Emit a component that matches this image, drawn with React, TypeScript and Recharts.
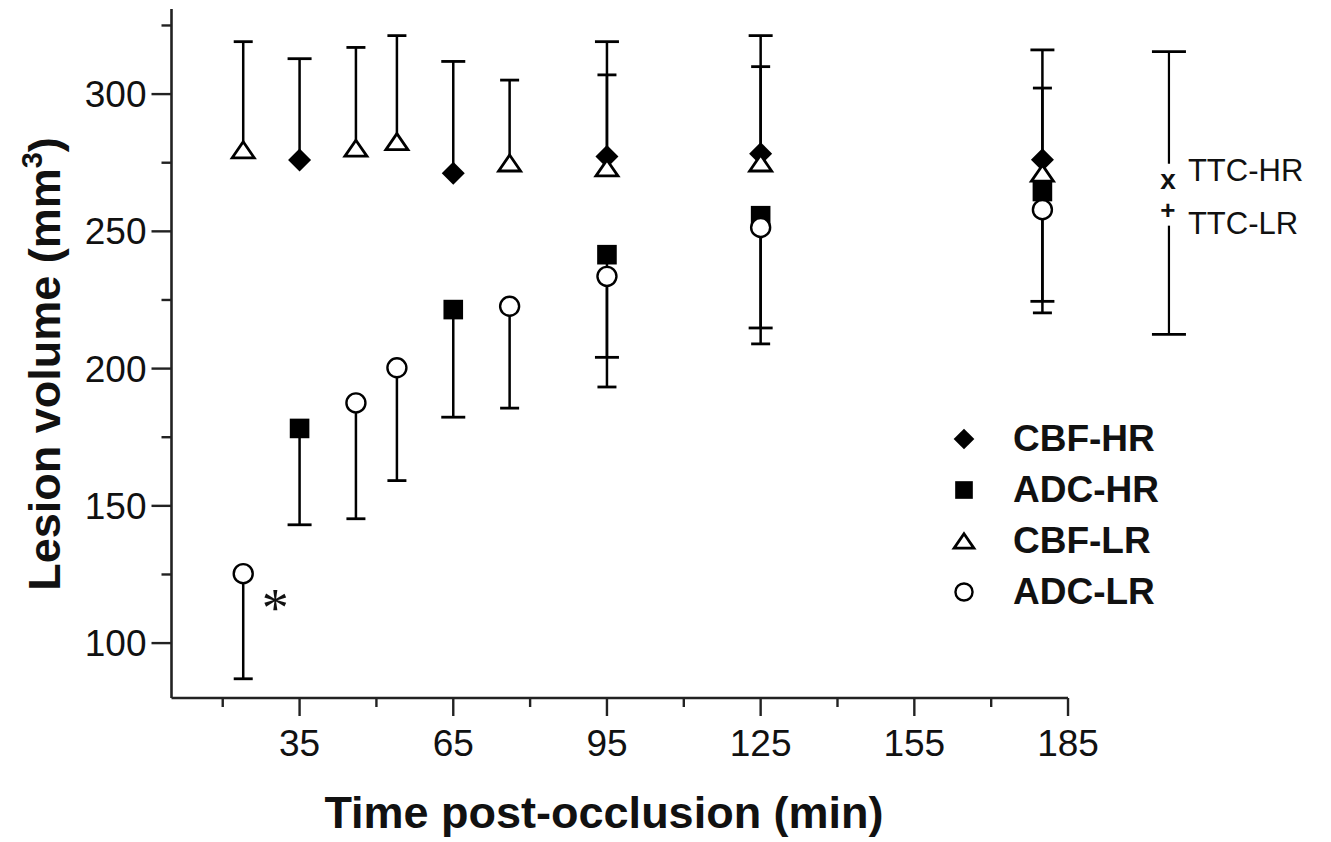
import React from 'react';
import { ComposedChart, Scatter, Line, XAxis, YAxis, ReferenceLine, Legend } from 'recharts';

const FONT = '"Liberation Sans", Arial, Helvetica, sans-serif';
const INK = '#111';

// CBF high-resolution (filled diamond), error bar upward
const cbfHrTime = [35, 65, 95, 125, 180];
const cbfHrVolume = [276.0, 271.2, 277.3, 278.3, 276.1];
const cbfHrUpper = [312.9, 311.9, 319.1, 321.3, 316.1];

// CBF low-resolution (open triangle), error bar upward
const cbfLrTime = [24, 46, 54, 76, 95, 125, 180];
const cbfLrVolume = [279.7, 280.3, 282.7, 274.9, 273.1, 274.9, 271.2];
const cbfLrUpper = [319.1, 317.0, 321.3, 305.1, 307.0, 310.0, 302.2];

// ADC high-resolution (filled square), error bar downward
const adcHrTime = [35, 65, 95, 125, 180];
const adcHrVolume = [178.2, 221.5, 241.5, 255.7, 264.5];
const adcHrLower = [143.1, 182.3, 204.1, 214.8, 224.5];

// ADC low-resolution (open circle), error bar downward
const adcLrTime = [24, 46, 54, 76, 95, 125, 180];
const adcLrVolume = [125.3, 187.5, 200.3, 222.7, 233.6, 251.4, 257.9];
const adcLrLower = [87.0, 145.3, 159.2, 185.6, 193.3, 209.0, 220.3];
const adcLrNotes = ['*', '', '', '', '', '', ''];

// TTC reference values
const ttcTime = 204.7;
const ttcNames = ['TTC-HR', 'TTC-LR'];
const ttcGlyphs = ['x', '+'];
const ttcVolume = [268.8, 257.9];
const ttcRange = [212.5, 315.5];

const xDomain = [10, 236];
const xAxisEnd = 185;
const yDomain = [80, 331];
const xTicks = [20, 35, 50, 65, 80, 95, 110, 125, 140, 155, 170, 185];
const xMajor = [35, 65, 95, 125, 155, 185];
const yTicks = [100, 125, 150, 175, 200, 225, 250, 275, 300, 325];
const yMajor = [100, 150, 200, 250, 300];

const toPoints = (xs: number[], ys: number[]) => xs.map((x, i) => ({ x, y: ys[i] }));
const toBars = (xs: number[], ys: number[], ends: number[]) =>
  xs.flatMap((x, i) => [{ x, y: ys[i] }, { x, y: ends[i], cap: true }, { x, y: null }]);

const capDot = (half: number) => (props: any) => {
  const { cx, cy, payload, index } = props;
  if (!payload || !payload.cap || cx == null || cy == null) return <g key={`c${index}`} />;
  return (
    <line key={`c${index}`} x1={cx - half} x2={cx + half} y1={cy} y2={cy} stroke="#000" strokeWidth={2.8} />
  );
};

function DiamondShape({ cx, cy, s = 1 }: any) {
  const r = 11.5 * s;
  return <polygon points={`${cx},${cy - r} ${cx + r},${cy} ${cx},${cy + r} ${cx - r},${cy}`} fill="#000" />;
}

function SquareShape({ cx, cy, s = 1 }: any) {
  const h = 9.8 * s;
  return <rect x={cx - h} y={cy - h} width={2 * h} height={2 * h} fill="#000" />;
}

function TriangleShape({ cx, cy, s = 1 }: any) {
  const w = 11 * s;
  const h = 8 * s;
  return (
    <polygon
      points={`${cx},${cy - h} ${cx + w},${cy + h} ${cx - w},${cy + h}`}
      fill="#fff"
      stroke="#000"
      strokeWidth={2.8}
    />
  );
}

function CircleShape({ cx, cy, s = 1, payload }: any) {
  return (
    <g>
      <circle cx={cx} cy={cy} r={9.5 * s} fill="#fff" stroke="#000" strokeWidth={2.4} />
      {payload && payload.note ? (
        <text x={cx + 32} y={cy + 52} textAnchor="middle" fontSize={54} fontFamily='"Liberation Serif", serif' fill={INK}>
          {payload.note}
        </text>
      ) : null}
    </g>
  );
}

function TtcShape({ cx, cy, payload }: any) {
  const i = ttcNames.indexOf(payload.name);
  const labelDy = i === 0 ? -10 : 13;
  return (
    <g>
      <rect x={cx - 8} y={cy - 16} width={16} height={32} fill="#fff" />
      <text x={cx - 1} y={cy + 9} textAnchor="middle" fontSize={i === 0 ? 28 : 26} fontWeight={700} fontFamily={FONT} fill={INK}>
        {payload.glyph}
      </text>
      <text x={cx + 19} y={cy + labelDy + 11} fontSize={31} fontFamily={FONT} fill={INK}>
        {payload.name}
      </text>
    </g>
  );
}

const legendItems = [
  { name: 'CBF-HR', Shape: DiamondShape },
  { name: 'ADC-HR', Shape: SquareShape },
  { name: 'CBF-LR', Shape: TriangleShape },
  { name: 'ADC-LR', Shape: CircleShape },
];

function LegendBox() {
  return (
    <div style={{ display: 'flex', flexDirection: 'column', fontFamily: FONT, fontWeight: 700, fontSize: 37, color: INK }}>
      {legendItems.map(({ name, Shape }) => (
        <div key={name} style={{ display: 'flex', alignItems: 'center', height: 51 }}>
          <svg width={30} height={30} style={{ display: 'block' }}>
            <Shape cx={15} cy={15} s={0.9} />
          </svg>
          <span style={{ marginLeft: 34, lineHeight: '51px', whiteSpace: 'nowrap' }}>{name}</span>
        </div>
      ))}
    </div>
  );
}

function XTick({ x, y, payload }: any) {
  const major = xMajor.includes(payload.value);
  return (
    <g>
      <line x1={x} x2={x} y1={y} y2={y + (major ? 18 : 9)} stroke="#222" strokeWidth={2.4} />
      {major ? (
        <text x={x} y={y + 58} textAnchor="middle" fontSize={37} fontFamily={FONT} fill={INK}>
          {payload.value}
        </text>
      ) : null}
    </g>
  );
}

function YTick({ x, y, payload }: any) {
  const major = yMajor.includes(payload.value);
  return (
    <g>
      <line x1={x - (major ? 20 : 10)} x2={x} y1={y} y2={y} stroke="#222" strokeWidth={2.4} />
      {major ? (
        <text x={x - 25} y={y + 13} textAnchor="end" fontSize={37} fontFamily={FONT} fill={INK}>
          {payload.value}
        </text>
      ) : null}
    </g>
  );
}

const XTitle = () => (
  <text x={604} y={828} textAnchor="middle" fontSize={45} fontWeight={700} fontFamily={FONT} fill={INK}>
    Time post-occlusion (min)
  </text>
);

const YTitle = () => (
  <text
    x={60}
    y={364}
    transform="rotate(-90 60 364)"
    textAnchor="middle"
    fontSize={45}
    fontWeight={700}
    fontFamily={FONT}
    fill={INK}
  >
    Lesion volume (mm<tspan dy={-18} fontSize={29}>3</tspan>
    <tspan dy={18}>)</tspan>
  </text>
);

export default function App() {
  const cbfHr = toPoints(cbfHrTime, cbfHrVolume);
  const cbfLr = toPoints(cbfLrTime, cbfLrVolume);
  const adcHr = toPoints(adcHrTime, adcHrVolume);
  const adcLr = adcLrTime.map((x, i) => ({ x, y: adcLrVolume[i], note: adcLrNotes[i] }));
  const ttc = ttcNames.map((name, i) => ({ x: ttcTime, y: ttcVolume[i], name, glyph: ttcGlyphs[i] }));
  const ttcBar = [
    { x: ttcTime, y: ttcRange[1], cap: true },
    { x: ttcTime, y: ttcRange[0], cap: true },
  ];

  return (
    <div style={{ position: 'absolute', left: 0, top: 0, width: 1331, height: 842, background: '#fff' }}>
      <ComposedChart width={1331} height={842} margin={{ top: 9, right: 1.7, bottom: 44, left: 51.5 }}>
        <XAxis
          type="number"
          dataKey="x"
          domain={xDomain}
          ticks={xTicks}
          interval={0}
          axisLine={false}
          tickLine={false}
          tickSize={0}
          tickMargin={0}
          height={100}
          tick={(p: any) => <XTick {...p} />}
          label={{ content: XTitle }}
        />
        <YAxis
          type="number"
          dataKey="y"
          domain={yDomain}
          ticks={yTicks}
          interval={0}
          width={120}
          axisLine={{ stroke: '#222', strokeWidth: 2.6 }}
          tickLine={false}
          tickSize={0}
          tickMargin={0}
          tick={(p: any) => <YTick {...p} />}
          label={{ content: YTitle }}
        />
        <ReferenceLine
          segment={[
            { x: xDomain[0], y: yDomain[0] },
            { x: xAxisEnd, y: yDomain[0] },
          ]}
          stroke="#222"
          strokeWidth={2.6}
          ifOverflow="visible"
        />
        <Legend
          layout="horizontal"
          verticalAlign="middle"
          align="center"
          content={() => <LegendBox />}
          wrapperStyle={{ left: 949, top: 413, width: 260, height: 210 }}
        />

        <Line data={toBars(cbfLrTime, cbfLrVolume, cbfLrUpper)} dataKey="y" stroke="#000" strokeWidth={2.5} dot={capDot(9.5)} activeDot={false} isAnimationActive={false} legendType="none" />
        <Line data={toBars(cbfHrTime, cbfHrVolume, cbfHrUpper)} dataKey="y" stroke="#000" strokeWidth={2.5} dot={capDot(12)} activeDot={false} isAnimationActive={false} legendType="none" />
        <Line data={toBars(adcHrTime, adcHrVolume, adcHrLower)} dataKey="y" stroke="#000" strokeWidth={2.5} dot={capDot(12)} activeDot={false} isAnimationActive={false} legendType="none" />
        <Line data={toBars(adcLrTime, adcLrVolume, adcLrLower)} dataKey="y" stroke="#000" strokeWidth={2.5} dot={capDot(9.5)} activeDot={false} isAnimationActive={false} legendType="none" />
        <Line data={ttcBar} dataKey="y" stroke="#000" strokeWidth={2.2} dot={capDot(17)} activeDot={false} isAnimationActive={false} legendType="none" />

        <Scatter data={cbfHr} shape={DiamondShape} isAnimationActive={false} legendType="none" />
        <Scatter data={cbfLr} shape={TriangleShape} isAnimationActive={false} legendType="none" />
        <Scatter data={adcHr} shape={SquareShape} isAnimationActive={false} legendType="none" />
        <Scatter data={adcLr} shape={CircleShape} isAnimationActive={false} legendType="none" />
        <Scatter data={ttc} shape={TtcShape} isAnimationActive={false} legendType="none" />
      </ComposedChart>
    </div>
  );
}
